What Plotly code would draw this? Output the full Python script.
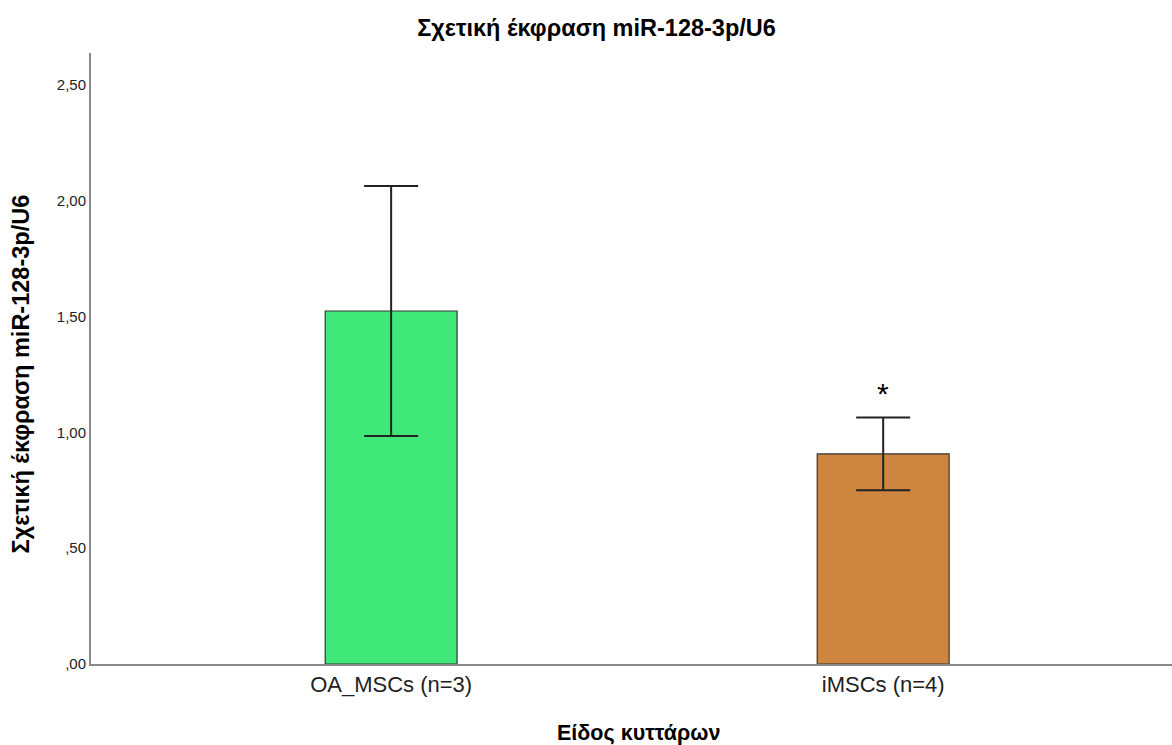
import plotly.graph_objects as go

categories = ["OA_MSCs (n=3)", "iMSCs (n=4)"]
means = [1.524, 0.907]
errors = [0.540, 0.157]
colors = ["#40E87A", "#CD8540"]
ytick_vals = [0, 0.5, 1.0, 1.5, 2.0, 2.5]
ytick_text = [",00", ",50", "1,00", "1,50", "2,00", "2,50"]
xpos = [0, 1]

font = "Liberation Sans, Arial, sans-serif"

fig = go.Figure()
fig.add_trace(go.Bar(
    x=xpos, y=means, width=0.268,
    marker=dict(color=colors, line=dict(color="#333333", width=1.2)),
    error_y=dict(type="data", array=errors, visible=True, color="#222222",
                 thickness=2, width=27),
    showlegend=False,
))
fig.add_annotation(x=1, y=means[1] + errors[1], text="*", showarrow=False,
                   yanchor="middle", yshift=24, font=dict(size=30, color="#000", family=font))

# axis titles as annotations for precise placement
fig.add_annotation(xref="paper", yref="paper", x=0, y=0.5, xanchor="center", yanchor="middle",
                   xshift=-71, yshift=-16, textangle=-90, showarrow=False,
                   text="<b>Σχετική έκφραση miR-128-3p/U6</b>",
                   font=dict(size=23.5, color="#000", family=font))
fig.add_annotation(xref="paper", yref="paper", x=0.5, y=0, xanchor="center", yanchor="middle",
                   xshift=7, yshift=-69, showarrow=False,
                   text="<b>Είδος κυττάρων</b>",
                   font=dict(size=21.5, color="#000", family=font))

fig.update_layout(
    width=1172, height=745,
    margin=dict(l=91, r=0, t=53, b=81),
    plot_bgcolor="white", paper_bgcolor="white",
    font=dict(family=font, color="#222"),
    title=dict(text="<b>Σχετική έκφραση miR-128-3p/U6</b>", x=596.5 / 1172, xanchor="center",
               y=1 - 28 / 745, yanchor="middle", font=dict(size=23.5, color="#000")),
    xaxis=dict(range=[-0.61, 1.587], tickvals=xpos, ticktext=categories,
               showgrid=False, zeroline=False, showline=True, linecolor="#888888",
               linewidth=2, ticks="", tickfont=dict(size=22, color="#222")),
    yaxis=dict(range=[0, 2.638], tickvals=ytick_vals, ticktext=ytick_text,
               showgrid=False, zeroline=False, showline=True, linecolor="#888888",
               linewidth=2, ticks="", tickfont=dict(size=15, color="#222")),
)

fig.write_html("out.html", config={"displayModeBar": False},
               post_script="document.body.style.margin='0';")
